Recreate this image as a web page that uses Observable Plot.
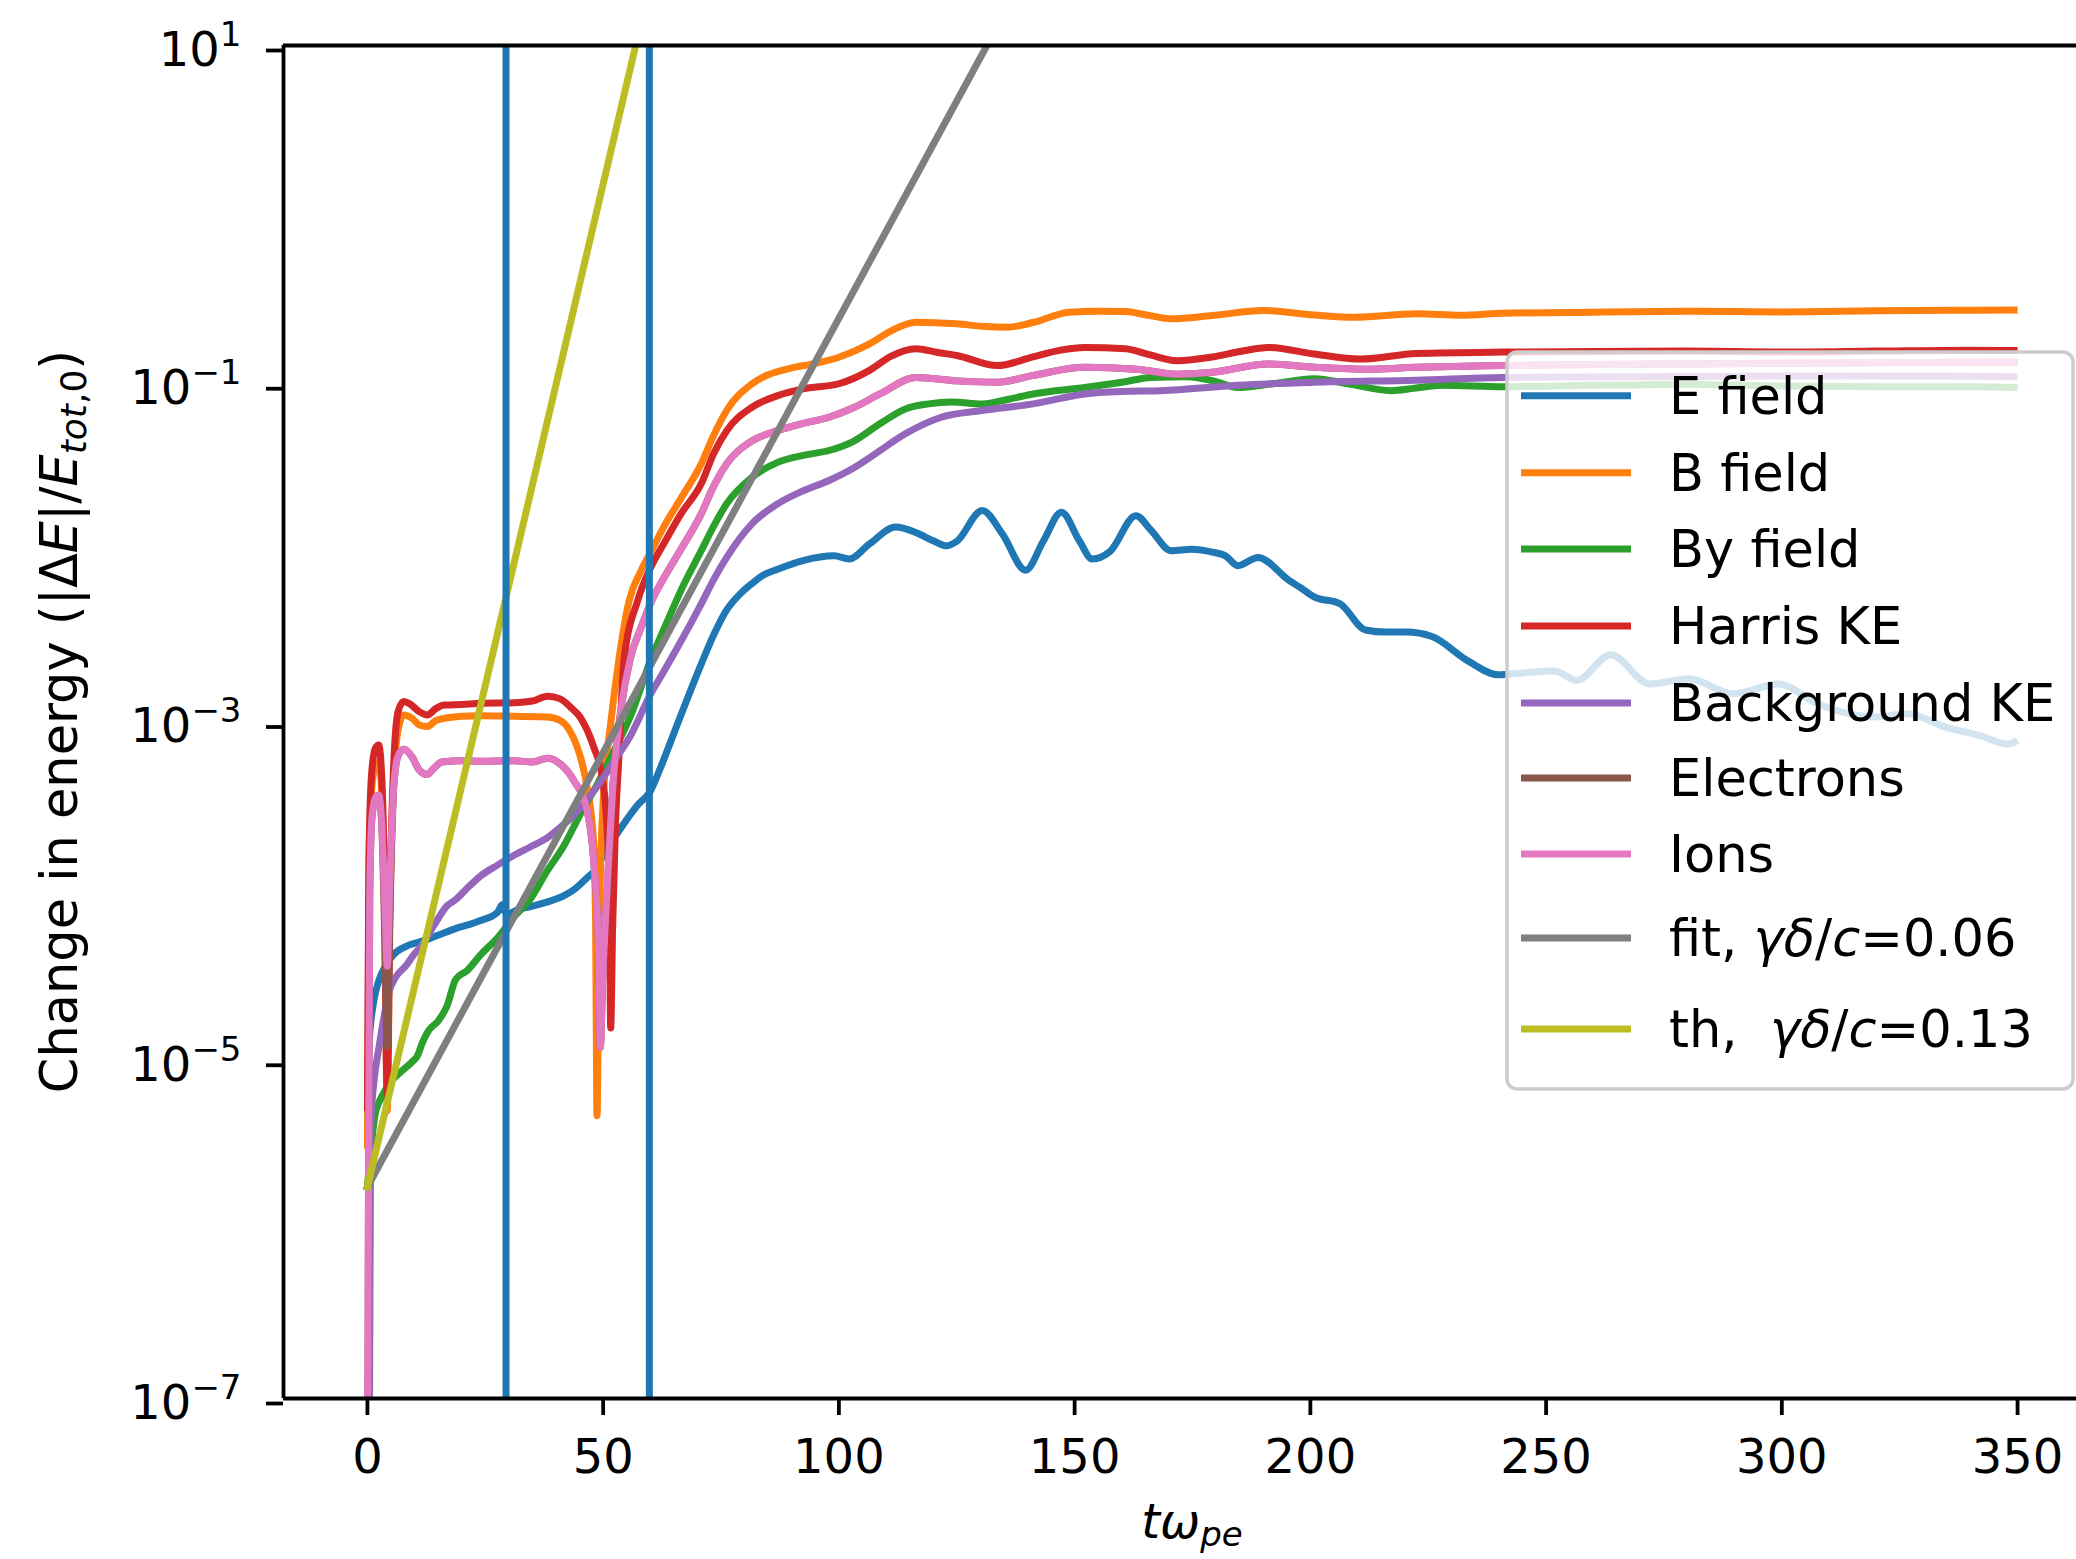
<!DOCTYPE html>
<html>
<head>
<meta charset="utf-8">
<script src="https://cdn.jsdelivr.net/npm/d3@7"></script>
<script src="https://cdn.jsdelivr.net/npm/@observablehq/plot@0.6"></script>
<style>
  html, body { margin: 0; padding: 0; background: #fff; overflow: hidden; }
  #chart { position: relative; width: 2076px; height: 1559px; overflow: hidden; }
  #chart svg { overflow: hidden; }
</style>
</head>
<body>
<div id="chart"></div>
<script>
// Energy change of each component vs time, [t*omega_pe, |dE|/E_tot,0]
const eField = [[0,8e-6],[0.3,1.2e-5],[1.3,2.2e-5],[2.5,3.0e-5],[3.8,3.6e-5],[5.5,4.2e-5],[8.1,4.7e-5],[12,5.1e-5],[15.1,5.5e-5],[18.7,6.0e-5],[24,6.7e-5],[27.6,7.5e-5],[28.6,8.3e-5],[29.6,7.3e-5],[32,7.8e-5],[34.6,8.1e-5],[38,8.6e-5],[41.7,9.4e-5],[44,1.03e-4],[46.6,1.2e-4],[48.5,1.35e-4],[50.1,1.65e-4],[53,2.2e-4],[57.2,3.2e-4],[60,3.9e-4],[62.2,5.4e-4],[66.5,1.1e-3],[70.8,2.2e-3],[73.5,3.3e-3],[76.2,4.6e-3],[79,5.7e-3],[81.6,6.6e-3],[84,7.4e-3],[87,8.0e-3],[92.4,9.0e-3],[99,9.6e-3],[102.2,9.2e-3],[106.5,1.13e-2],[112,1.42e-2],[116.3,1.32e-2],[120,1.18e-2],[122.8,1.1e-2],[125,1.17e-2],[130.4,1.78e-2],[134.7,1.29e-2],[139.6,7.9e-3],[143.4,1.18e-2],[147.2,1.74e-2],[151,1.18e-2],[153.7,9.2e-3],[157.5,1.02e-2],[163,1.66e-2],[166.2,1.36e-2],[170.5,1.03e-2],[174.8,1.05e-2],[179.2,1.01e-2],[182,9.6e-3],[184.6,8.4e-3],[188.9,9.4e-3],[195.4,6.9e-3],[198,6.2e-3],[200.8,5.5e-3],[206.3,5.0e-3],[211.7,3.5e-3],[216,3.4e-3],[220.4,3.4e-3],[225.8,3.2e-3],[233.4,2.3e-3],[239.9,1.9e-3],[245,1.95e-3],[251.8,2.0e-3],[256.5,1.76e-3],[263.7,2.5e-3],[272,1.68e-3],[280.3,1.8e-3],[289.8,1.47e-3],[299.3,1.68e-3],[307.6,1.28e-3],[319.5,1.07e-3],[326.6,1.12e-3],[334.9,9.3e-4],[342,8.3e-4],[348,7.4e-4],[350,7.8e-4]];

const bField = [[0,3e-6],[0.3,1e-4],[0.9,4e-4],[1.7,5.5e-4],[2.4,5.8e-4],[3.0,4e-4],[3.6,1e-4],[4.2,5e-6],[4.8,8e-5],[5.5,4e-4],[6.5,9e-4],[7.7,1.1e-3],[9.5,1.05e-3],[11,9.6e-4],[12.7,9.4e-4],[14.5,1.02e-3],[16.3,1.05e-3],[20,1.08e-3],[24,1.09e-3],[31,1.08e-3],[38.2,1.07e-3],[40.9,1.02e-3],[42.8,9e-4],[44.5,7.1e-4],[46.6,4.1e-4],[48,1.9e-4],[48.4,6.1e-5],[48.7,4.7e-6],[49.1,5e-5],[50.1,3.8e-4],[51.5,9.3e-4],[53.3,2.3e-3],[55.5,5.2e-3],[58,7.8e-3],[60,1.0e-2],[63,1.45e-2],[66.5,2.1e-2],[70.8,3.36e-2],[73.5,5e-2],[76.2,6.95e-2],[81.6,0.1],[85,0.113],[89.2,0.1225],[95,0.132],[100,0.1435],[106.5,0.172],[111,0.205],[116.3,0.231],[125,0.226],[131,0.218],[135.8,0.216],[141.4,0.231],[148.8,0.265],[155,0.268],[160.8,0.267],[165,0.256],[170.5,0.242],[179.2,0.253],[190,0.271],[200.8,0.255],[209.5,0.247],[222.5,0.259],[232,0.254],[240.8,0.261],[260,0.265],[280,0.268],[300,0.266],[320,0.27],[340,0.272],[350,0.273]];

const byField = [[0,1.8e-6],[1,3.5e-6],[1.7,4.9e-6],[2.4,5.6e-6],[4,6.8e-6],[5.2,7.6e-6],[7,8.5e-6],[9.5,9.8e-6],[10.6,1.06e-5],[11.6,1.26e-5],[13,1.5e-5],[15.1,1.72e-5],[16.9,2.1e-5],[18.7,3.0e-5],[21.2,3.4e-5],[24,4.2e-5],[27.6,5.3e-5],[31,7e-5],[34.6,9e-5],[38,1.3e-4],[41.7,1.86e-4],[45,2.8e-4],[48.8,4.3e-4],[52,6.5e-4],[55.9,1.1e-3],[60,2.3e-3],[63,3.6e-3],[66.5,6e-3],[70.8,1.03e-2],[73.5,1.45e-2],[76.2,1.95e-2],[81.6,2.8e-2],[87,3.43e-2],[93,3.8e-2],[97.9,4.03e-2],[103.3,4.6e-2],[108.7,5.8e-2],[114.1,7.1e-2],[119,7.6e-2],[123.9,7.8e-2],[130.4,7.6e-2],[136,8.1e-2],[141.2,8.7e-2],[152.1,9.5e-2],[160,0.102],[166.2,0.109],[173.8,0.11],[180,0.103],[184.6,9.5e-2],[192,0.1],[200.8,0.107],[208,0.1],[217.1,9.1e-2],[222,9.4e-2],[228,9.8e-2],[240.8,9.6e-2],[260,9.8e-2],[280,9.9e-2],[300,9.7e-2],[320,9.6e-2],[340,9.6e-2],[350,9.5e-2]];

const harrisKE = [[0,5e-6],[0.3,1.5e-4],[0.9,5e-4],[1.7,7e-4],[2.4,7.3e-4],[3.0,5e-4],[3.6,1.2e-4],[4.2,6.3e-6],[4.8,1e-4],[5.5,5e-4],[6.5,1.15e-3],[7.7,1.32e-3],[9,1.28e-3],[11,1.15e-3],[12.7,1.1e-3],[14.5,1.2e-3],[16.3,1.26e-3],[20,1.27e-3],[24,1.29e-3],[31.1,1.3e-3],[35,1.33e-3],[38.2,1.42e-3],[40.9,1.37e-3],[43,1.23e-3],[45.1,1.07e-3],[48,7.1e-4],[49.8,4.7e-4],[50.8,2.4e-4],[51.3,9.6e-5],[51.6,1.55e-5],[52,6e-5],[52.6,2.4e-4],[53.3,5.9e-4],[54.4,2.3e-3],[57.3,5.2e-3],[60,8.1e-3],[63,1.15e-2],[66.5,1.7e-2],[70.8,2.56e-2],[73.5,3.9e-2],[76.2,5.28e-2],[81.6,7.27e-2],[87,8.51e-2],[92.4,9.33e-2],[100,0.1],[106.5,0.12],[111,0.145],[116.3,0.161],[121,0.153],[125,0.147],[133.6,0.128],[141.2,0.144],[147,0.158],[152.1,0.164],[160.8,0.161],[166,0.148],[171.6,0.137],[179.2,0.144],[185,0.155],[191.1,0.164],[200.8,0.15],[210.6,0.14],[222.5,0.151],[240.8,0.154],[260,0.155],[280,0.156],[300,0.154],[320,0.156],[340,0.158],[350,0.157]];

const backgroundKE = [[0,1e-8],[0.45,1e-7],[0.7,4e-6],[1.5,8e-6],[2.4,1.17e-5],[3.5,1.8e-5],[4.5,2.5e-5],[6,3.1e-5],[8.1,3.6e-5],[9.8,4.2e-5],[11.6,4.8e-5],[14,6.2e-5],[16.9,8.2e-5],[18.7,8.9e-5],[21,1.03e-4],[24,1.23e-4],[27.5,1.42e-4],[31.1,1.63e-4],[34.6,1.83e-4],[38.2,2.07e-4],[41,2.4e-4],[43.1,2.69e-4],[45.1,3.1e-4],[48,3.9e-4],[52.3,5.86e-4],[56,8.5e-4],[60,1.45e-3],[62.2,1.85e-3],[66.5,3.0e-3],[70.8,5.0e-3],[73.5,7e-3],[76.2,9.4e-3],[81.6,1.49e-2],[87,1.95e-2],[92,2.3e-2],[97.9,2.68e-2],[103.3,3.2e-2],[108,3.9e-2],[114.1,5.06e-2],[121.7,6.34e-2],[130.4,6.95e-2],[141.2,7.6e-2],[152.1,8.7e-2],[160,9e-2],[168.3,9.1e-2],[184.6,9.8e-2],[200.8,0.102],[222.5,0.105],[240.8,0.109],[270,0.11],[300,0.111],[330,0.111],[350,0.11]];

const electrons = [[0,1e-8],[0.2,1e-6],[0.5,1e-4],[1.0,2.8e-4],[1.8,3.6e-4],[2.4,3.7e-4],[3.0,2.6e-4],[3.7,5e-5],[4.2,1.2e-5],[4.8,8e-5],[5.6,4.2e-4],[6.5,6.3e-4],[7.7,6.9e-4],[9.5,6.2e-4],[11,5.2e-4],[12.7,4.9e-4],[14,5.3e-4],[15.8,5.8e-4],[20,5.9e-4],[24,5.86e-4],[31.1,5.9e-4],[35,5.8e-4],[38.2,6.1e-4],[40.9,5.65e-4],[43.8,4.5e-4],[46.6,3.0e-4],[48,1.5e-4],[49.1,3.9e-5],[49.4,1.19e-5],[49.9,3e-5],[50.8,9.7e-5],[52.2,4.7e-4],[53.8,1.2e-3],[55.8,2.4e-3],[58,3.6e-3],[60,5e-3],[63,7.2e-3],[66.5,1.05e-2],[70.8,1.7e-2],[73.5,2.5e-2],[76.2,3.36e-2],[81.6,4.6e-2],[87,5.28e-2],[92,5.8e-2],[97.9,6.34e-2],[103.3,7.26e-2],[108.7,8.7e-2],[116.3,0.109],[125,0.104],[133.6,0.102],[141.2,0.112],[152.1,0.125],[163,0.122],[171.6,0.114],[179.2,0.117],[191.1,0.131],[200.8,0.125],[211.7,0.122],[222.5,0.125],[240.8,0.128],[260,0.13],[280,0.131],[300,0.132],[320,0.133],[340,0.134],[350,0.134]];

const ions = [[0,1e-8],[0.2,1e-6],[0.5,1e-4],[1.0,2.8e-4],[1.8,3.6e-4],[2.4,3.7e-4],[3.0,2.6e-4],[3.7,8e-5],[4.2,3.6e-5],[4.8,1.2e-4],[5.6,4.2e-4],[6.5,6.3e-4],[7.7,6.9e-4],[9.5,6.2e-4],[11,5.2e-4],[12.7,4.9e-4],[14,5.3e-4],[15.8,5.8e-4],[20,5.9e-4],[24,5.86e-4],[31.1,5.9e-4],[35,5.8e-4],[38.2,6.1e-4],[40.9,5.65e-4],[43.8,4.5e-4],[46.6,3.0e-4],[48,1.5e-4],[49.1,3.9e-5],[49.4,1.19e-5],[49.9,3e-5],[50.8,9.7e-5],[52.2,4.7e-4],[53.8,1.2e-3],[55.8,2.4e-3],[58,3.6e-3],[60,5e-3],[63,7.2e-3],[66.5,1.05e-2],[70.8,1.7e-2],[73.5,2.5e-2],[76.2,3.36e-2],[81.6,4.6e-2],[87,5.28e-2],[92,5.8e-2],[97.9,6.34e-2],[103.3,7.26e-2],[108.7,8.7e-2],[116.3,0.109],[125,0.104],[133.6,0.102],[141.2,0.112],[152.1,0.125],[163,0.122],[171.6,0.114],[179.2,0.117],[191.1,0.131],[200.8,0.125],[211.7,0.122],[222.5,0.125],[240.8,0.128],[260,0.13],[280,0.131],[300,0.132],[320,0.133],[340,0.134],[350,0.134]];

// Exponential growth lines (straight on the log axis): start and end points
const fitLine = [[0,1.78e-6],[131.4,10]];
const thLine = [[0,1.78e-6],[56.9,10]];
const fitGamma = 0.06;
const thGamma = 0.13;

// Times marked by vertical lines
const markerTimes = [29.4, 59.8];

const seriesNames = ["E field","B field","By field","Harris KE","Background KE","Electrons","Ions"];
const seriesData = [eField, bField, byField, harrisKE, backgroundKE, electrons, ions];
const seriesColors = ["#1f77b4","#ff7f0e","#2ca02c","#d62728","#9467bd","#8c564b","#e377c2"];
const fitColor = "#7f7f7f";
const thColor = "#bcbd22";

const xTicks = [0,50,100,150,200,250,300,350];
const yTicks = [1e1,1e-1,1e-3,1e-5,1e-7];
const yTickExponents = ["1","\u22121","\u22123","\u22125","\u22127"];

const W = 2076, H = 1559;
const FONT = "'DejaVu Sans', sans-serif";
const LW = 7;
const xDomain = [-17.8, 362.5];

const lineOpts = (color) => ({
  x: d => d[0], y: d => d[1], stroke: color, strokeWidth: LW,
  strokeLinejoin: "round", strokeLinecap: "butt", clip: true
});

const plot = Plot.plot({
  width: W,
  height: H,
  marginLeft: 283,
  marginRight: 0,
  marginTop: 45,
  marginBottom: 161,
  style: { fontFamily: FONT, fontSize: "48px", background: "#fff", color: "#000" },
  x: { domain: xDomain },
  y: { type: "log", domain: [1e-7, 10] },
  marks: [
    ...seriesData.map((data, i) => Plot.line(data, {...lineOpts(seriesColors[i]), curve: "monotone-x"})),
    Plot.line(fitLine, {...lineOpts(fitColor), strokeLinecap: "square"}),
    Plot.line(thLine, {...lineOpts(thColor), strokeLinecap: "square"}),
    Plot.ruleX(markerTimes, { stroke: "#1f77b4", strokeWidth: LW }),
    // spines
    Plot.ruleX([xDomain[0]], { stroke: "#000", strokeWidth: 3.8 }),
    Plot.ruleY([1e-7], { stroke: "#000", strokeWidth: 3.8 }),
    Plot.ruleY([10], { stroke: "#000", strokeWidth: 3.8 }),
    Plot.axisX({
      ticks: xTicks, tickSize: 17, tickPadding: 23, strokeWidth: 3.8,
      fontSize: 48, label: null, tickFormat: d => String(d)
    }),
    Plot.axisY({
      ticks: yTicks, tickSize: 17, tickPadding: 25, strokeWidth: 3.8,
      fontSize: 48, label: null, dy: 5,
      tickFormat: (d) => "10^" + yTickExponents[yTicks.indexOf(d)]
    })
  ]
});

document.getElementById("chart").appendChild(plot);

const svg = d3.select(plot);

// y tick labels: "10" with a raised exponent
svg.selectAll('g[aria-label="y-axis tick label"] text').each(function () {
  const t = d3.select(this);
  const m = t.text().match(/^10\^(.+)$/);
  if (!m) return;
  t.text(null);
  t.append("tspan").text("10");
  t.append("tspan").attr("font-size", 34).attr("dy", -20).text(m[1]);
});

// y axis title with math parts
const yl = svg.append("text")
  .attr("transform", "translate(77,721.5) rotate(-90)")
  .attr("text-anchor", "middle")
  .attr("font-family", FONT).attr("font-size", 51).attr("fill", "#000");
yl.append("tspan").text("Change in energy (|\u0394");
yl.append("tspan").attr("font-style", "italic").text("E");
yl.append("tspan").text("|/");
yl.append("tspan").attr("font-style", "italic").text("E");
yl.append("tspan").attr("font-size", 36).attr("dy", 9).attr("font-style", "italic").text("tot");
yl.append("tspan").attr("font-size", 36).text(",0");
yl.append("tspan").attr("dy", -9).text(")");

// x axis title
const xl = svg.append("text")
  .attr("x", 1192).attr("y", 1538)
  .attr("text-anchor", "middle")
  .attr("font-family", FONT).attr("font-size", 48).attr("fill", "#000");
xl.append("tspan").attr("font-style", "italic").text("t\u03c9");
xl.append("tspan").attr("font-style", "italic").attr("font-size", 34).attr("dy", 8).text("pe");

// legend
const legendRows = [395.7, 472.7, 549, 626, 703, 778, 854, 938, 1029];
const legendItems = seriesNames.map((name, i) => ({ color: seriesColors[i], parts: [[name, false]] }));
legendItems.push({ color: fitColor, parts: [["fit, ", false], ["\u03b3\u03b4", true], ["/", false], ["c", true], ["=" + fitGamma.toFixed(2), false]] });
legendItems.push({ color: thColor, parts: [["th,  ", false], ["\u03b3\u03b4", true], ["/", false], ["c", true], ["=" + thGamma.toFixed(2), false]] });

const lg = svg.append("g").attr("text-anchor", "start");
lg.append("rect")
  .attr("x", 1507).attr("y", 352).attr("width", 566).attr("height", 737).attr("rx", 10)
  .attr("fill", "#fff").attr("fill-opacity", 0.8)
  .attr("stroke", "#cccccc").attr("stroke-width", 3.5);
legendItems.forEach((item, i) => {
  const y = legendRows[i];
  lg.append("line")
    .attr("x1", 1521).attr("x2", 1631).attr("y1", y).attr("y2", y)
    .attr("stroke", item.color).attr("stroke-width", LW);
  const tx = lg.append("text")
    .attr("x", 1669).attr("y", y + 18)
    .attr("text-anchor", "start")
    .attr("font-family", FONT).attr("font-size", 51).attr("fill", "#000")
    .style("white-space", "pre");
  item.parts.forEach(([s, it]) => {
    const sp = tx.append("tspan").text(s);
    if (it) sp.attr("font-style", "italic");
  });
});
</script>
</body>
</html>
